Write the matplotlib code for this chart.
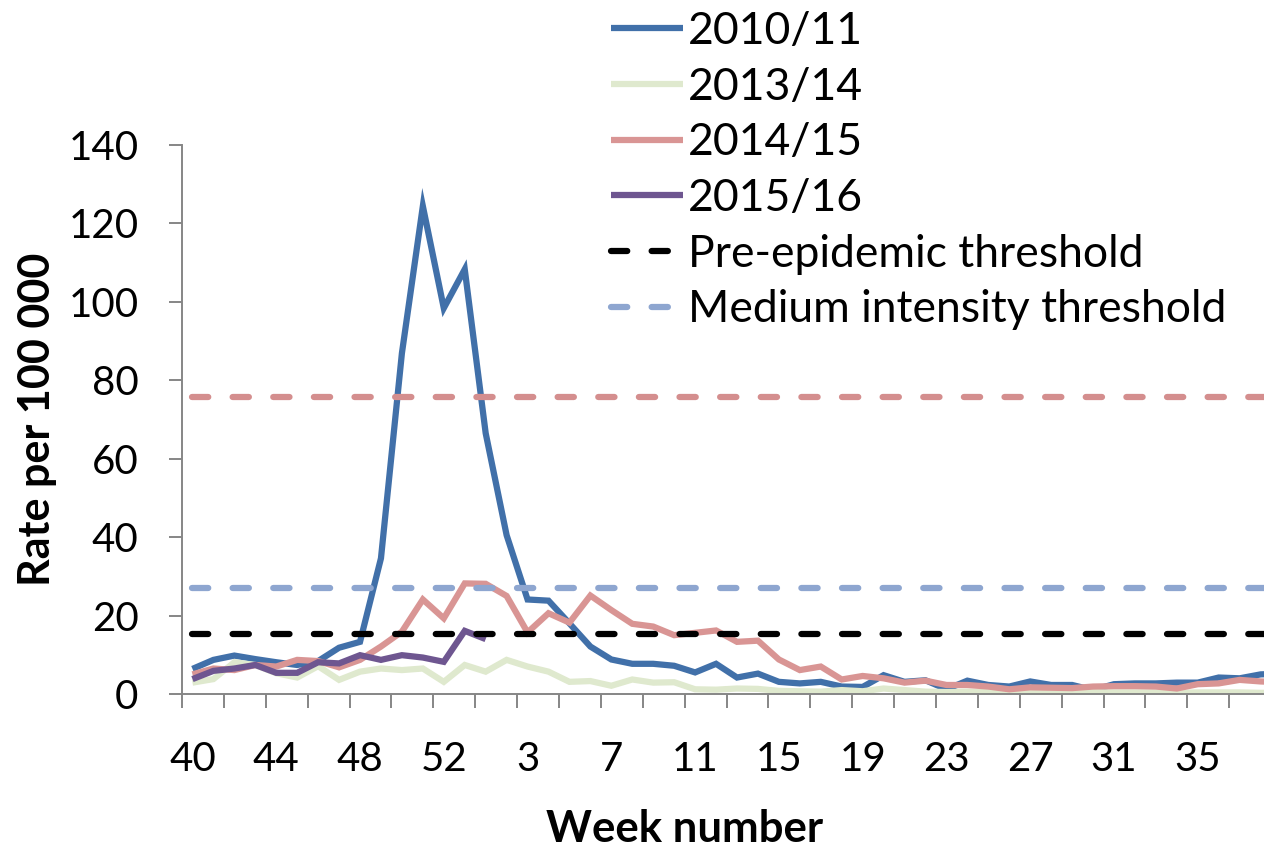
import matplotlib
matplotlib.use("Agg")
import matplotlib.pyplot as plt
import numpy as np

plt.rcParams['font.family'] = ['Lato', 'DejaVu Sans']

weeks = list(range(40, 54)) + list(range(1, 40))

s2010 = [6.4, 8.7, 9.8, 8.9, 8.1, 7.4, 8.4, 11.8, 13.3, 34.6, 86.9, 124.4, 98.4, 108.3,
         66.5, 40.5, 24.1, 23.8, 18.0, 12.1, 8.8, 7.7, 7.7, 7.2, 5.5, 7.7, 4.2, 5.2,
         3.1, 2.7, 3.1, 1.9, 1.8, 4.8, 3.1, 3.5, 1.2, 3.4, 2.3, 1.9, 3.2, 2.3, 2.3,
         1.0, 2.5, 2.7, 2.7, 2.9, 2.9, 4.2, 4.0, 5.0, 5.2]
s2013 = [2.9, 3.8, 8.1, 7.4, 5.3, 4.2, 7.1, 3.6, 5.7, 6.5, 6.1, 6.5, 3.1, 7.4,
         5.7, 8.7, 7.0, 5.7, 3.1, 3.3, 2.1, 3.7, 2.9, 3.0, 1.2, 1.1, 1.4, 1.3,
         0.8, 0.7, 0.6, 1.0, 0.7, 1.4, 1.0, 0.6, 0.5, 0.6, 0.5, 0.4, 0.5, 0.4, 0.4,
         0.5, 0.4, 0.4, 0.4, 0.3, 0.4, 0.4, 0.4, 0.3, 0.3]
s2014 = [5.0, 6.5, 6.1, 7.4, 7.0, 8.7, 8.4, 6.8, 8.7, 12.1, 15.9, 24.1, 19.3, 28.2,
         28.1, 25.0, 15.7, 20.6, 18.2, 25.1, 21.4, 17.9, 17.2, 15.0, 15.6, 16.2, 13.3, 13.6,
         8.8, 6.1, 7.0, 3.7, 4.6, 4.0, 2.9, 3.4, 2.3, 2.3, 1.9, 1.2, 1.7, 1.6, 1.5,
         1.9, 2.0, 2.0, 1.9, 1.4, 2.5, 2.7, 3.6, 3.2, 3.0]
s2015 = [3.8, 5.9, 6.5, 7.4, 5.4, 5.4, 8.1, 7.8, 9.9, 8.7, 9.9, 9.3, 8.2, 16.1, 14.0]

pre_epidemic = 15.3
medium_threshold = 27.0
high_threshold = 75.8

series_labels = ['2010/11', '2013/14', '2014/15', '2015/16']
series_colors = ['#4170A9', '#DFE9CE', '#D99594', '#6E5690']

W, H = 1264, 852
fig = plt.figure(figsize=(W / 100, H / 100), dpi=100)
ax = fig.add_axes([182 / W, 158 / H, 1110 / W, 549 / H])

x = np.arange(len(weeks))
lw = 4.5
for data, lab, col in zip([s2010, s2013, s2014, s2015], series_labels, series_colors):
    ax.plot(x[:len(data)], data, color=col, lw=lw, label=lab, solid_joinstyle='miter',
            solid_capstyle='butt')

dash = (2.6, 3.9)
ax.plot(x, [pre_epidemic] * len(x), color='black', lw=lw, dashes=dash,
        dash_capstyle='round', label='Pre-epidemic threshold')
ax.plot(x, [medium_threshold] * len(x), color='#8EA6D0', lw=lw, dashes=dash,
        dash_capstyle='round', label='Medium intensity threshold')
ax.plot(x, [high_threshold] * len(x), color='#D48E8E', lw=lw, dashes=dash,
        dash_capstyle='round', label='_nolegend_')

ax.set_xlim(-0.5, len(weeks) - 0.5)
ax.set_ylim(0, 140)
ax.set_yticks(range(0, 141, 20))

# last label (week 39) falls outside the visible area
lab_idx = list(range(0, len(weeks) - 1, 4))
ax.set_xticks(lab_idx)
ax.set_xticklabels([str(weeks[i]) for i in lab_idx])
ax.set_xticks(np.arange(-0.5, len(weeks), 2), minor=True)

for side in ['top', 'right']:
    ax.spines[side].set_visible(False)
for side in ['left', 'bottom']:
    ax.spines[side].set_color('#868686')
    ax.spines[side].set_linewidth(1.4)

fs = 29
ax.tick_params(axis='x', which='major', length=0, pad=34, labelsize=fs)
ax.tick_params(axis='x', which='minor', length=10, width=1.4, color='#868686', direction='out')
ax.tick_params(axis='y', which='major', length=9.4, width=1.4, color='#868686', pad=22,
               labelsize=fs, direction='out')

ax.set_ylabel('Rate per 100 000', fontsize=31, fontweight='bold')
ax.yaxis.set_label_coords(-125 / 1110, 0.5)
fig.text(685 / W, 1 - 829 / H, 'Week number', fontsize=31.5, fontweight='bold',
         ha='center', va='center')

lfs = 32
leg = fig.legend(loc='upper left', bbox_to_anchor=(611 / W, 1 - 11 / H), frameon=False,
                 fontsize=lfs, handlelength=1.62, handletextpad=0.11, labelspacing=0.33,
                 borderpad=0, borderaxespad=0)

fig.savefig('out.png', dpi=100)
